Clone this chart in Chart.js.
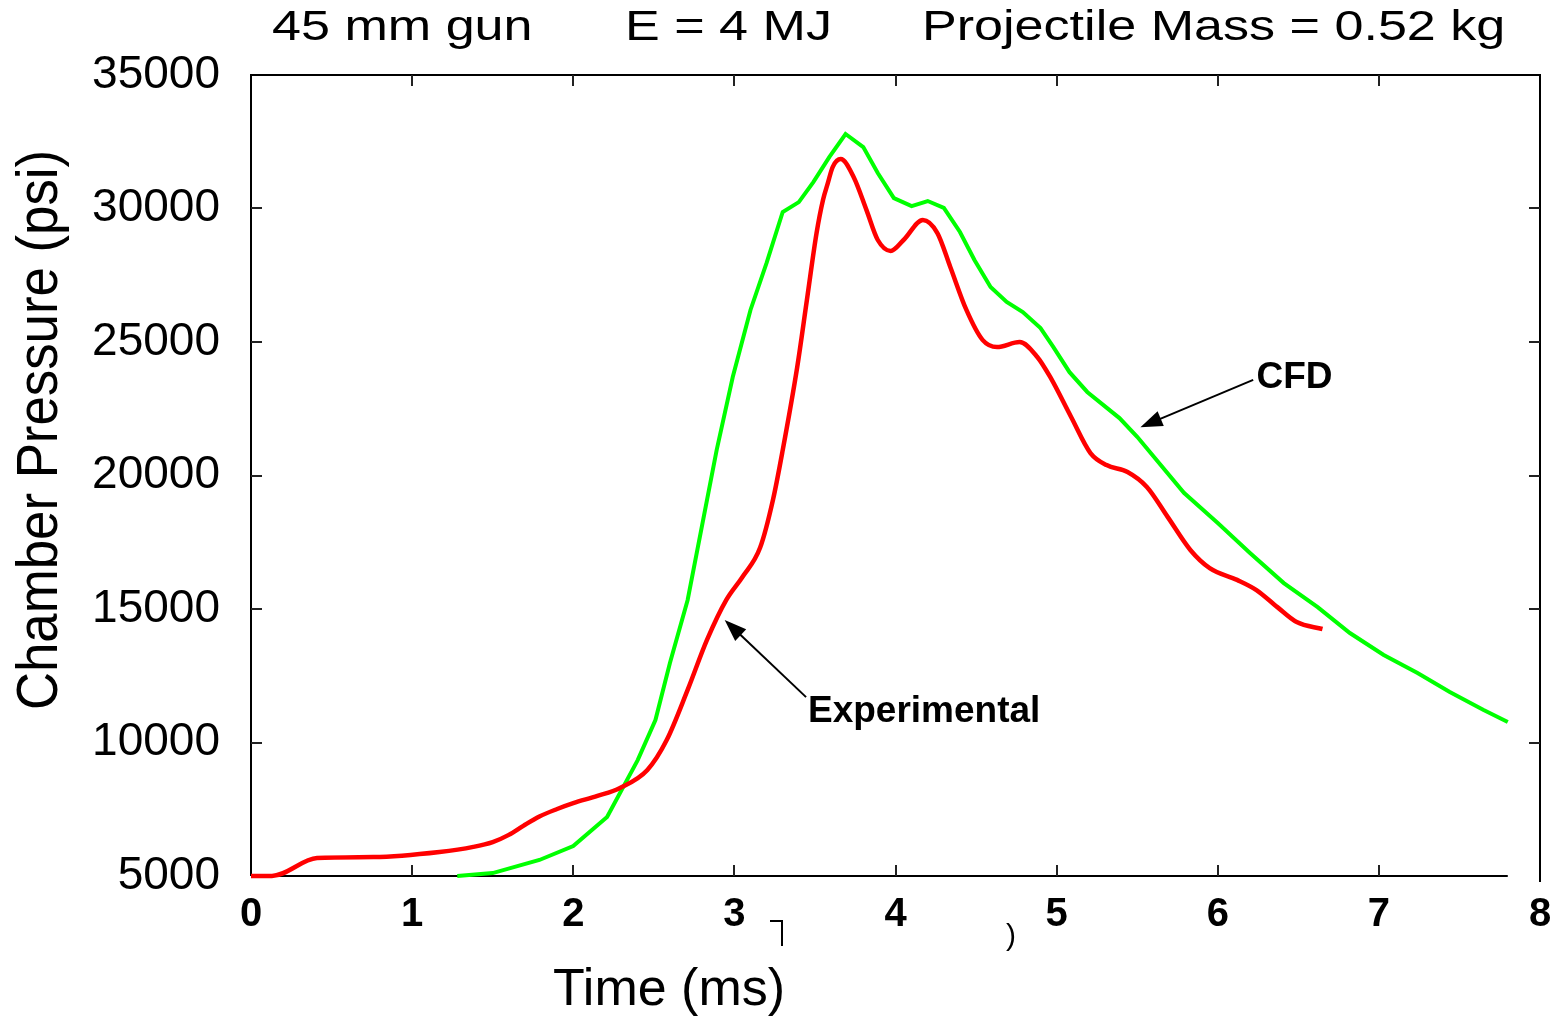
<!DOCTYPE html>
<html>
<head>
<meta charset="utf-8">
<script src="https://cdn.jsdelivr.net/npm/chart.js@4.4.1/dist/chart.umd.min.js"></script>
<style>
  html, body { margin: 0; padding: 0; background: #fff; }
  canvas { display: block; }
</style>
</head>
<body>
<canvas id="grafico" width="1558" height="1018"></canvas>
<script>
'use strict';

// Experimental (red) - time in ms, pressure in psi
const tiempoExp = [0, 0.13, 0.41, 0.76, 1.17, 1.38, 1.50, 1.60, 1.69, 1.79, 1.90, 2.00, 2.15, 2.29, 2.46, 2.58, 2.71, 2.83, 2.95,
  3.05, 3.16, 3.24, 3.30, 3.39, 3.45, 3.51, 3.55, 3.58, 3.61, 3.66, 3.74, 3.82, 3.89, 3.97, 4.05, 4.17, 4.26,
  4.34, 4.44, 4.54, 4.63, 4.77, 4.88, 4.96, 5.09, 5.21, 5.31, 5.44, 5.56, 5.69, 5.83, 5.95, 6.12, 6.24, 6.37,
  6.49, 6.65];
const presionExp = [5000, 5000, 5670, 5710, 5900, 6090, 6270, 6540, 6880, 7230, 7510, 7730, 8000, 8300, 8970, 10090, 11970, 13840, 15340,
  16200, 17300, 19100, 20950, 24060, 26570, 29080, 30320, 30950, 31550, 31850, 31180, 29940, 28820, 28410, 28820, 29570, 29080,
  27810, 26200, 25080, 24810, 25000, 24440, 23690, 22190, 20840, 20390, 20130, 19570, 18440, 17210, 16530, 16090, 15710, 15070,
  14510, 14250];

// CFD (green)
const tiempoCFD = [1.28, 1.50, 1.79, 2.00, 2.21, 2.40, 2.51, 2.60, 2.71, 2.89, 2.99, 3.10, 3.20, 3.30, 3.40, 3.49,
  3.59, 3.69, 3.80, 3.89, 3.99, 4.10, 4.20, 4.30, 4.40, 4.49, 4.59, 4.69, 4.79, 4.90, 4.98, 5.08, 5.19, 5.39,
  5.50, 5.79, 6.00, 6.20, 6.41, 6.62, 6.82, 7.03, 7.24, 7.44, 7.65, 7.80];
const presionCFD = [5000, 5110, 5600, 6120, 7210, 9340, 10840, 12980, 15340, 20950, 23690, 26200, 27960, 29870, 30240, 30990,
  31930, 32790, 32300, 31330, 30390, 30090, 30280, 30020, 29120, 28070, 27060, 26500, 26120, 25520, 24810, 23870, 23130, 22150,
  21450, 19350, 18220, 17100, 15970, 15070, 14100, 13280, 12600, 11890, 11220, 10770];

const ticksX = [0, 1, 2, 3, 4, 5, 6, 7, 8];
const ticksY = [5000, 10000, 15000, 20000, 25000, 30000, 35000];

const tituloPartes = ['45 mm gun', 'E = 4 MJ', 'Projectile Mass = 0.52 kg'];
const tituloX = 'Time (ms)';
const tituloY = 'Chamber Pressure (psi)';

const FUENTE = '"Liberation Sans", Arial, Helvetica, sans-serif';

const aPuntos = (xs, ys) => xs.map((x, i) => ({ x: x, y: ys[i] }));

function texto(ctx, s, x, y, font, sx, align) {
  ctx.save();
  ctx.font = font;
  ctx.fillStyle = '#000';
  ctx.textAlign = align || 'left';
  ctx.textBaseline = 'alphabetic';
  ctx.translate(x, y);
  ctx.scale(sx, 1);
  ctx.fillText(s, 0, 0);
  ctx.restore();
}

function flecha(ctx, x1, y1, x2, y2) {
  const ang = Math.atan2(y2 - y1, x2 - x1);
  const largo = 22, ancho = 8;
  ctx.save();
  ctx.strokeStyle = '#000';
  ctx.fillStyle = '#000';
  ctx.lineWidth = 2;
  ctx.beginPath();
  ctx.moveTo(x1, y1);
  ctx.lineTo(x2 - Math.cos(ang) * largo * 0.8, y2 - Math.sin(ang) * largo * 0.8);
  ctx.stroke();
  ctx.beginPath();
  ctx.moveTo(x2, y2);
  ctx.lineTo(x2 - Math.cos(ang) * largo - Math.sin(ang) * ancho, y2 - Math.sin(ang) * largo + Math.cos(ang) * ancho);
  ctx.lineTo(x2 - Math.cos(ang) * largo + Math.sin(ang) * ancho, y2 - Math.sin(ang) * largo - Math.cos(ang) * ancho);
  ctx.closePath();
  ctx.fill();
  ctx.restore();
}

// marco con las marcas hacia adentro
const pluginMarco = {
  id: 'marco',
  beforeDatasetsDraw(chart) {
    const ctx = chart.ctx;
    const xs = chart.scales.x, ys = chart.scales.y;
    const a = chart.chartArea;
    const finX = xs.getPixelForValue(7.8);
    ctx.save();
    ctx.strokeStyle = '#000';
    ctx.lineWidth = 2;
    ctx.beginPath();
    ctx.moveTo(a.left, a.bottom);
    ctx.lineTo(a.left, a.top);
    ctx.lineTo(a.right, a.top);
    ctx.lineTo(a.right, a.bottom + 6);
    ctx.moveTo(a.left, a.bottom);
    ctx.lineTo(finX, a.bottom);
    ctx.stroke();

    ctx.strokeStyle = '#222';
    const lt = 11;
    ctx.beginPath();
    for (let i = 1; i < ticksX.length - 1; i++) {
      const px = Math.round(xs.getPixelForValue(ticksX[i]));
      ctx.moveTo(px, a.bottom); ctx.lineTo(px, a.bottom - lt);
      ctx.moveTo(px, a.top); ctx.lineTo(px, a.top + lt);
    }
    for (let i = 1; i < ticksY.length - 1; i++) {
      const py = Math.round(ys.getPixelForValue(ticksY[i]));
      ctx.moveTo(a.left, py); ctx.lineTo(a.left + lt, py);
      ctx.moveTo(a.right, py); ctx.lineTo(a.right - lt, py);
    }
    ctx.stroke();
    ctx.restore();
  }
};

const pluginTextos = {
  id: 'textos',
  afterDraw(chart) {
    const ctx = chart.ctx;
    const xs = chart.scales.x, ys = chart.scales.y;
    const px = v => xs.getPixelForValue(v);
    const py = v => ys.getPixelForValue(v);

    // titulo
    const fT = '42px ' + FUENTE;
    texto(ctx, tituloPartes[0], 272, 40, fT, 1.24);
    texto(ctx, tituloPartes[1], 625, 40, fT, 1.24);
    texto(ctx, tituloPartes[2], 922, 40, fT, 1.24);

    // eje x
    texto(ctx, tituloX, 553, 1005, '52px ' + FUENTE, 1);

    // eje y (rotado)
    ctx.save();
    ctx.font = '58px ' + FUENTE;
    ctx.fillStyle = '#000';
    ctx.textAlign = 'center';
    ctx.textBaseline = 'alphabetic';
    ctx.translate(57, 430);
    ctx.rotate(-Math.PI / 2);
    ctx.scale(0.91, 1);
    ctx.fillText(tituloY, 0, 0);
    ctx.restore();

    // anotaciones
    const fA = 'bold 37px ' + FUENTE;
    texto(ctx, 'CFD', px(6.24), py(23280), fA, 1);
    flecha(ctx, px(6.22), py(23580), px(5.52), py(21810));
    texto(ctx, 'Experimental', px(3.457), py(10770), fA, 1);
    flecha(ctx, px(3.445), py(11700), px(2.94), py(14590));

    // restos de texto del original
    ctx.save();
    ctx.strokeStyle = '#000';
    ctx.lineWidth = 2;
    ctx.beginPath();
    ctx.moveTo(770, 921); ctx.lineTo(782, 921); ctx.lineTo(782, 946);
    ctx.stroke();
    ctx.restore();
    texto(ctx, ')', 1006, 945, '30px ' + FUENTE, 1);
  }
};

new Chart(document.getElementById('grafico'), {
  type: 'line',
  data: {
    datasets: [{
      label: 'Experimental',
      data: aPuntos(tiempoExp, presionExp),
      borderColor: '#ff0000',
      backgroundColor: '#ff0000',
      borderWidth: 4.5,
      pointRadius: 0,
      fill: false,
      cubicInterpolationMode: 'monotone',
      clip: false
    }, {
      label: 'CFD',
      data: aPuntos(tiempoCFD, presionCFD),
      borderColor: '#00ff00',
      backgroundColor: '#00ff00',
      borderWidth: 4,
      pointRadius: 0,
      fill: false,
      tension: 0,
      clip: false
    }]
  },
  options: {
    responsive: false,
    animation: false,
    events: [],
    layout: { padding: { top: 75, right: 18, bottom: 0, left: 0 } },
    plugins: {
      legend: { display: false },
      tooltip: { enabled: false },
      title: { display: false }
    },
    scales: {
      x: {
        type: 'linear',
        min: 0,
        max: 8,
        afterFit: s => { s.height = 142; s.paddingLeft = 0; s.paddingRight = 0; },
        afterBuildTicks: s => { s.ticks = ticksX.map(v => ({ value: v })); },
        grid: { display: false, drawTicks: false },
        border: { display: false },
        ticks: {
          color: '#000',
          padding: 15,
          maxRotation: 0,
          autoSkip: false,
          font: { family: FUENTE, size: 40, weight: 'bold' }
        }
      },
      y: {
        type: 'linear',
        min: 5000,
        max: 35000,
        afterFit: s => { s.width = 251; s.paddingTop = 0; s.paddingBottom = 0; },
        afterBuildTicks: s => { s.ticks = ticksY.map(v => ({ value: v })); },
        grid: { display: false, drawTicks: false },
        border: { display: false },
        ticks: {
          color: '#000',
          padding: 31,
          autoSkip: false,
          font: { family: FUENTE, size: 46 },
          callback: v => String(v)
        }
      }
    }
  },
  plugins: [pluginMarco, pluginTextos]
});
</script>
</body>
</html>
